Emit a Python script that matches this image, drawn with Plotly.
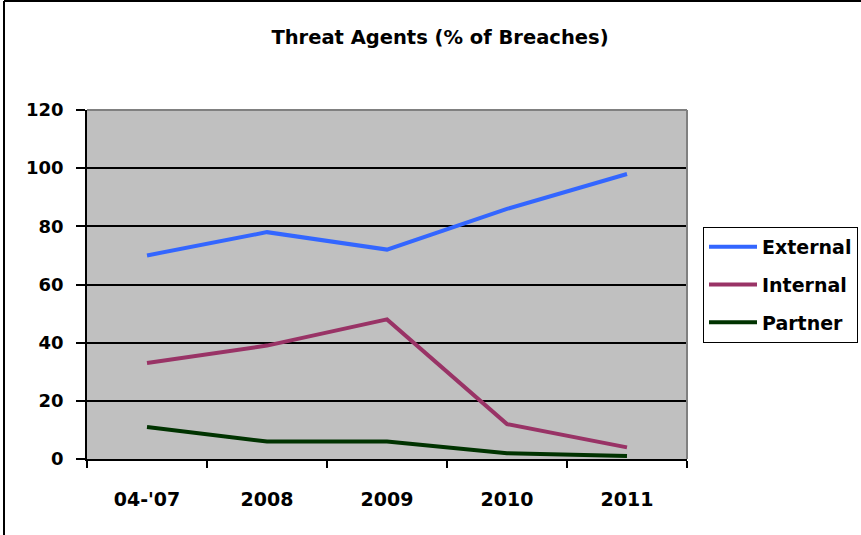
import plotly.graph_objects as go

categories = ["04-'07", "2008", "2009", "2010", "2011"]
external = [70, 78, 72, 86, 98]
internal = [33, 39, 48, 12, 4]
partner = [11, 6, 6, 2, 1]
y_ticks = [0, 20, 40, 60, 80, 100, 120]

FONT = "DejaVu Sans, sans-serif"

fig = go.Figure()
for name, vals, col in [("External", external, "#3366FF"),
                        ("Internal", internal, "#993366"),
                        ("Partner", partner, "#003300")]:
    fig.add_trace(go.Scatter(x=categories, y=vals, name=name, mode="lines",
                             legendgroup=name,
                             line=dict(color=col, width=4)))

L, R, T, B = 87, 687, 110, 459
W, H = 861, 535

fig.update_layout(
    width=W, height=H,
    margin=dict(l=L, r=W - R, t=T, b=H - B, pad=0, autoexpand=False),
    paper_bgcolor="white",
    plot_bgcolor="#C0C0C0",
    title=dict(text="Threat Agents (% of Breaches)", x=440 / W, xanchor="center",
               y=1 - 37 / H, yanchor="middle",
               font=dict(family=FONT, size=19.5, color="black", weight="bold")),
    font=dict(family=FONT, size=18, color="black", weight="bold"),
    legend=dict(x=(703 - L) / (R - L), xanchor="left", y=(B - 227) / (B - T), yanchor="top",
                bgcolor="white", bordercolor="black", borderwidth=1,
                font=dict(family=FONT, size=19, color="black", weight="bold"),
                tracegroupgap=10, itemwidth=48),
    xaxis=dict(type="category", range=[-0.5, 4.5], showgrid=False,
               showline=True, linecolor="black", linewidth=1.5,
               ticks="outside", tickson="boundaries", ticklen=7, tickcolor="black", tickwidth=1.5,
               ticklabelstandoff=22, mirror=False, zeroline=False,
               tickfont=dict(family=FONT, size=19, color="black", weight="bold")),
    yaxis=dict(range=[0, 120], tickvals=y_ticks, showgrid=True, gridcolor="black", gridwidth=1.5,
               showline=True, linecolor="black", linewidth=1.5, zeroline=False,
               ticks="outside", ticklen=9, tickcolor="black", tickwidth=1.5,
               ticklabelstandoff=9,
               tickfont=dict(family=FONT, size=18, color="black", weight="bold")),
    showlegend=True,
)

# plot area right/top border (grey)
fig.add_shape(type="line", xref="paper", yref="paper", x0=1, x1=1, y0=0, y1=1,
              line=dict(color="#808080", width=2))
fig.add_shape(type="line", xref="paper", yref="paper", x0=0, x1=1, y0=1, y1=1,
              line=dict(color="#808080", width=2))
# outer chart border (left and top visible)
fig.add_shape(type="line", xref="paper", yref="paper",
              x0=(4 - L) / (R - L), x1=(4 - L) / (R - L), y0=(B - 540) / (B - T), y1=(B - 1) / (B - T),
              line=dict(color="black", width=2))
fig.add_shape(type="line", xref="paper", yref="paper",
              x0=(4 - L) / (R - L), x1=(870 - L) / (R - L), y0=(B - 1) / (B - T), y1=(B - 1) / (B - T),
              line=dict(color="black", width=2))

fig.write_html("out.html")
